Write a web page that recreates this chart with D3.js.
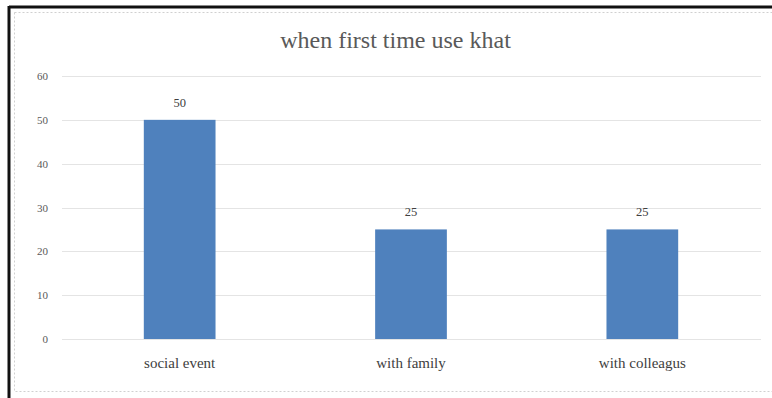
<!DOCTYPE html>
<html>
<head>
<meta charset="utf-8">
<script src="https://cdn.jsdelivr.net/npm/d3@7"></script>
<style>
  html, body { margin: 0; padding: 0; background: #fff; }
  svg { display: block; }
</style>
</head>
<body>
<svg id="chart" width="772" height="398"></svg>
<script>
// Chart data
const categories = ["social event", "with family", "with colleagus"];
const values = [50, 25, 25];
const yTicks = [0, 10, 20, 30, 40, 50, 60];
const chartTitle = "when first time use khat";

const FONT = "Liberation Serif, Times New Roman, DejaVu Serif, serif";

const svg = d3.select("#chart").style("font-family", FONT);
const W = 772, H = 398;

// Outer frame: heavy black edge on top and left, dotted inner frame
svg.append("rect").attr("x", 0).attr("y", 0).attr("width", W).attr("height", H).attr("fill", "#fff");
svg.append("line").attr("x1", 9).attr("x2", W).attr("y1", 7).attr("y2", 7)
  .attr("stroke", "#111").attr("stroke-width", 3);
svg.append("line").attr("x1", 9).attr("x2", 9).attr("y1", 6).attr("y2", H)
  .attr("stroke", "#111").attr("stroke-width", 3);
svg.append("rect").attr("x", 14.5).attr("y", 12.5).attr("width", W - 14).attr("height", 379)
  .attr("fill", "none").attr("stroke", "#d0d0d0").attr("stroke-dasharray", "2,2");

const margin = { left: 64, right: 758, top: 76, bottom: 339 };

const x = d3.scaleBand().domain(categories).range([margin.left, margin.right]).paddingInner(0.69).paddingOuter(0.345);
const y = d3.scaleLinear().domain([0, 60]).range([margin.bottom, margin.top]);

// Gridlines
svg.append("g").selectAll("line").data(yTicks).join("line")
  .attr("x1", 62).attr("x2", 761)
  .attr("y1", d => Math.round(y(d)) + 0.5).attr("y2", d => Math.round(y(d)) + 0.5)
  .attr("stroke", "#e4e4e4").attr("stroke-width", 1);

// Y axis tick labels
const yAxis = d3.axisLeft(y).tickValues(yTicks).tickSize(0).tickPadding(0);
const gy = svg.append("g").attr("transform", "translate(48,0)").call(yAxis);
gy.attr("font-family", null);
gy.select(".domain").remove();
gy.selectAll("text").style("font-family", FONT).attr("font-size", 11).attr("fill", "#595959");

// Bars
svg.append("g").selectAll("rect").data(values).join("rect")
  .attr("x", (d, i) => x(categories[i]))
  .attr("y", d => y(d))
  .attr("width", x.bandwidth())
  .attr("height", d => y(0) - y(d))
  .attr("fill", "#4f81bd");

// Value labels
svg.append("g").selectAll("text").data(values).join("text")
  .style("font-family", FONT)
  .attr("x", (d, i) => x(categories[i]) + x.bandwidth() / 2)
  .attr("y", d => y(d) - 13)
  .attr("text-anchor", "middle")
  .attr("font-size", 12.5).attr("fill", "#404040")
  .text(d => d);

// X axis category labels
const xAxis = d3.axisBottom(x).tickSize(0).tickPadding(0);
const gx = svg.append("g").attr("transform", "translate(0,357)").call(xAxis);
gx.attr("font-family", null);
gx.select(".domain").remove();
gx.selectAll("text").style("font-family", FONT).attr("font-size", 15).attr("fill", "#404040");

// Title
svg.append("text").style("font-family", FONT).attr("x", 395.5).attr("y", 48).attr("text-anchor", "middle")
  .attr("font-size", 24).attr("fill", "#595959")
  .text(chartTitle);
</script>
</body>
</html>
